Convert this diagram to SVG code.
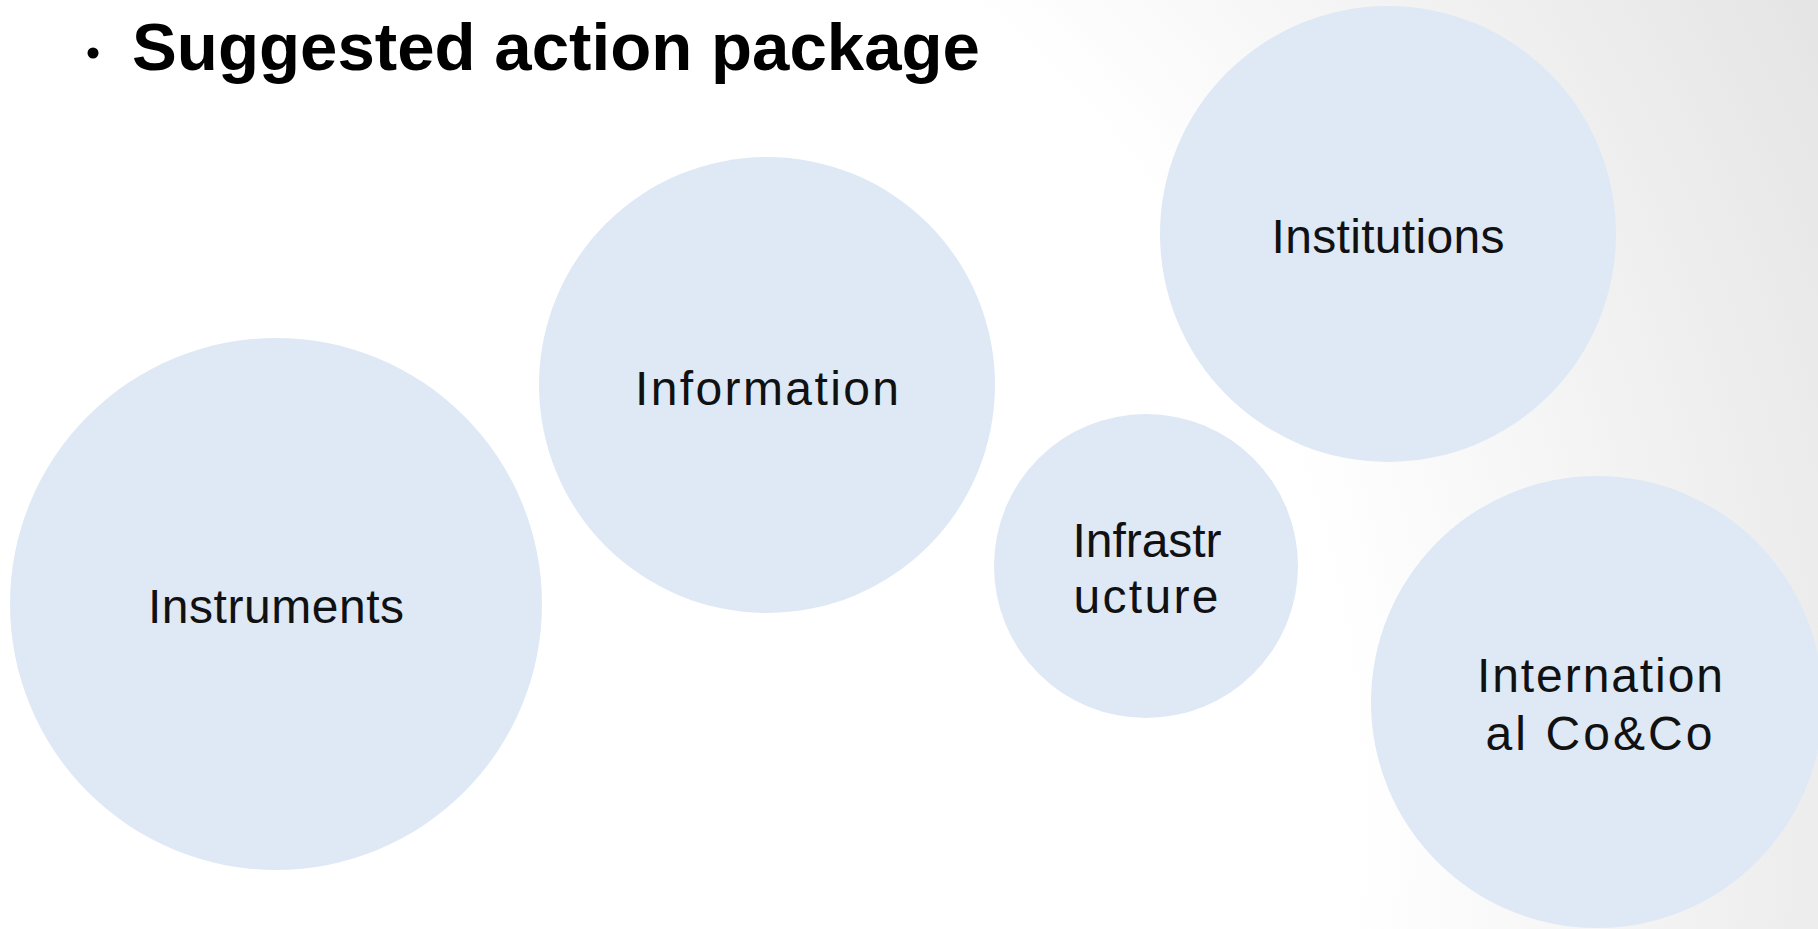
<svg xmlns="http://www.w3.org/2000/svg" width="1818" height="929" viewBox="0 0 1818 929">
  <defs>
    <radialGradient id="bg" gradientUnits="userSpaceOnUse" cx="300" cy="820" r="1760">
      <stop offset="0" stop-color="#ffffff"/>
      <stop offset="0.6" stop-color="#ffffff"/>
      <stop offset="1" stop-color="#e3e3e3"/>
    </radialGradient>
  </defs>
  <style>
    .bubble { fill: #dee9f5; }
    .label { font-family: "Liberation Sans", Arial, sans-serif; font-size: 48px; fill: #111111; text-anchor: middle; }
    .title { font-family: "Liberation Sans", Arial, sans-serif; font-size: 67px; font-weight: bold; fill: #000000; }
  </style>

  <!-- slide background -->
  <rect x="0" y="0" width="1818" height="929" fill="url(#bg)"/>

  <!-- heading -->
  <g id="title">
    <circle cx="93" cy="53" r="5.5" fill="#000000"/>
    <text class="title" x="132" y="70" textLength="848" lengthAdjust="spacingAndGlyphs">Suggested action package</text>
  </g>

  <!-- no connectors between the bubbles -->
  <g id="connectors"/>

  <g id="instruments">
    <circle class="bubble" cx="276" cy="604" r="266"/>
    <text class="label" x="276" y="623" textLength="256">Instruments</text>
  </g>

  <g id="information">
    <circle class="bubble" cx="767" cy="385" r="228"/>
    <text class="label" x="767" y="405" textLength="264">Information</text>
  </g>

  <g id="institutions">
    <circle class="bubble" cx="1388" cy="234" r="228"/>
    <text class="label" x="1388" y="253" textLength="233">Institutions</text>
  </g>

  <g id="infrastructure">
    <circle class="bubble" cx="1146" cy="566" r="152"/>
    <text class="label" x="1147" y="557" textLength="149">Infrastr</text>
    <text class="label" x="1146" y="613" textLength="145">ucture</text>
  </g>

  <g id="international">
    <circle class="bubble" cx="1597" cy="702" r="226"/>
    <text class="label" x="1600" y="692" textLength="246">Internation</text>
    <text class="label" x="1599" y="750" textLength="227">al Co&amp;Co</text>
  </g>
</svg>
